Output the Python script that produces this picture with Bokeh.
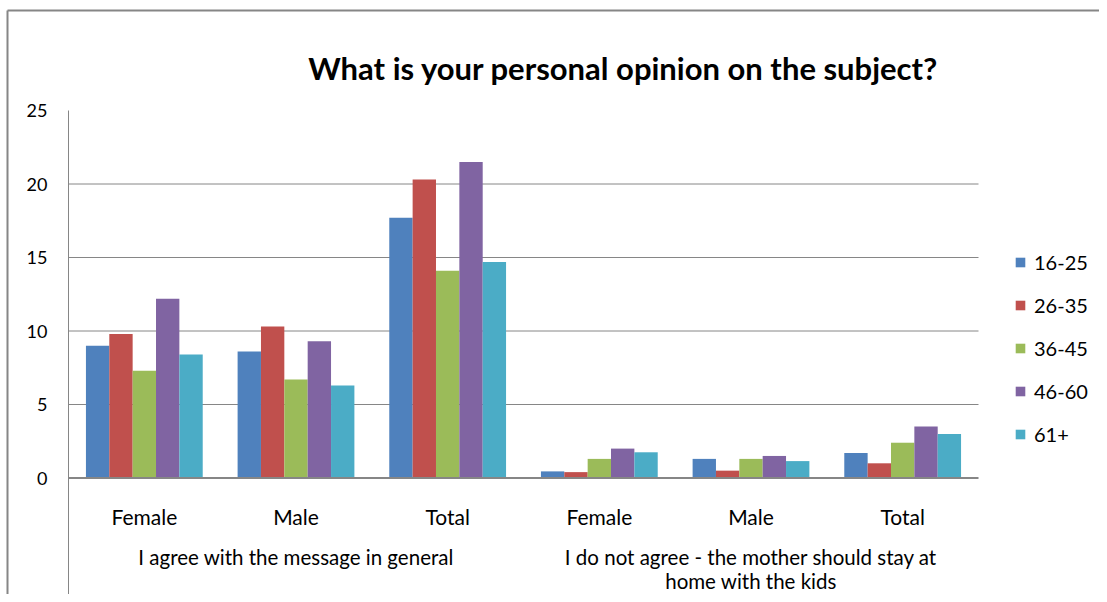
from bokeh.plotting import figure
from bokeh.models import ColumnDataSource, Range1d, Legend, LegendItem
from bokeh.core.properties import value
from bokeh.transform import dodge
from bokeh.embed import file_html
from bokeh.resources import INLINE

# ---------------- data ----------------
title_text = "What is your personal opinion on the subject?"
groups = ["I agree with the message in general",
          "I do not agree - the mother should stay at home with the kids"]
group_label_lines = [["I agree with the message in general"],
                     ["I do not agree - the mother should stay at", "home with the kids"]]
subgroups = ["Female", "Male", "Total"]
series_names = ["16-25", "26-35", "36-45", "46-60", "61+"]
v_16_25 = [9.0, 8.6, 17.7, 0.45, 1.3, 1.7]
v_26_35 = [9.8, 10.3, 20.3, 0.4, 0.5, 1.0]
v_36_45 = [7.3, 6.7, 14.1, 1.3, 1.3, 2.4]
v_46_60 = [12.2, 9.3, 21.5, 2.0, 1.5, 3.5]
v_61 = [8.4, 6.3, 14.7, 1.75, 1.15, 3.0]
series_values = [v_16_25, v_26_35, v_36_45, v_46_60, v_61]
y_ticks = [0, 5, 10, 15, 20, 25]
grid_ticks = [5, 10, 15, 20]

# ---------------- layout / style ----------------
colors = ["#4F81BD", "#C0504D", "#9BBB59", "#8064A2", "#4BACC6"]
AXIS_COL = "#868686"
FONT = "Lato"
W, H = 1099, 594
# plot area (in canvas pixels)
PL, PR, PT, PB = 68, 978, 110, 477.5
YMAX = 25
NCAT = len(groups) * len(subgroups)


def xd(cx):
    return (cx - PL) / (PR - PL) * NCAT


def yd(cy):
    return (PB - cy) / (PB - PT) * YMAX


p = figure(width=W, height=H, x_range=Range1d(xd(0), xd(W)), y_range=Range1d(yd(H), yd(0)),
           output_backend="svg", toolbar_location=None,
           min_border=0, min_border_left=0, min_border_right=0,
           min_border_top=0, min_border_bottom=0)
p.axis.visible = False
p.grid.visible = False
p.outline_line_color = None
p.background_fill_color = "white"
p.border_fill_color = "white"

# category centres from the category list
cats = [(g, s) for g in groups for s in subgroups]
centers = [i + 0.5 for i in range(len(cats))]

# gridlines
p.segment(x0=[0] * len(grid_ticks), x1=[NCAT] * len(grid_ticks), y0=grid_ticks, y1=grid_ticks,
          line_color=AXIS_COL, line_width=1)

# bars
bw = 0.154
items = []
for i, (name, vals, col) in enumerate(zip(series_names, series_values, colors)):
    src = ColumnDataSource(dict(x=centers, top=vals))
    r = p.vbar(x=dodge("x", (i - 2) * bw), top="top", width=bw, bottom=0,
               source=src, fill_color=col, line_color=None)
    items.append(LegendItem(label=name, renderers=[r]))

# axes lines
p.segment(x0=[0], x1=[NCAT], y0=[0], y1=[0], line_color=AXIS_COL, line_width=2)
p.segment(x0=[0], x1=[0], y0=[YMAX], y1=[yd(H)], line_color=AXIS_COL, line_width=1)

# outer chart border (top and left)
p.segment(x0=[xd(7), xd(7)], x1=[xd(W), xd(7)], y0=[yd(10), yd(10)], y1=[yd(10), yd(H)],
          line_color=AXIS_COL, line_width=2)

# y tick labels
p.text(x=[xd(PL - 21)] * len(y_ticks), y=y_ticks, text=[str(t) for t in y_ticks],
       text_align="right", text_baseline="middle", text_font=value(FONT),
       text_font_size="18px", text_color="#000000")

# title
p.text(x=[xd(623)], y=[yd(67)], text=[title_text], text_align="center",
       text_baseline="alphabetic", text_font=value(FONT), text_font_style="bold",
       text_font_size="31px", text_color="#000000")

# category labels
p.text(x=centers, y=[yd(516)] * len(cats), text=[s for _, s in cats],
       text_align="center", text_baseline="alphabetic", text_font=value(FONT),
       text_font_size="21px", text_color="#000000")

gx, gy, gt = [], [], []
for gi, lines in enumerate(group_label_lines):
    for li, line in enumerate(lines):
        gx.append(gi * len(subgroups) + len(subgroups) / 2)
        gy.append(yd(556 + 24 * li))
        gt.append(line)
p.text(x=gx, y=gy, text=gt, text_align="center", text_baseline="alphabetic",
       text_font=value(FONT), text_font_size="20.5px", text_color="#000000")

# legend (inside the full-canvas frame)
legend = Legend(items=items, location=(1014, 148), orientation="vertical",
                glyph_width=12, glyph_height=12, label_standoff=8, spacing=19,
                padding=0, margin=0, border_line_color=None, background_fill_alpha=0,
                label_text_font=FONT, label_text_font_size="20px",
                label_text_color="#000000", label_height=20)
p.add_layout(legend)

open("out.html", "w").write(file_html(p, INLINE))
